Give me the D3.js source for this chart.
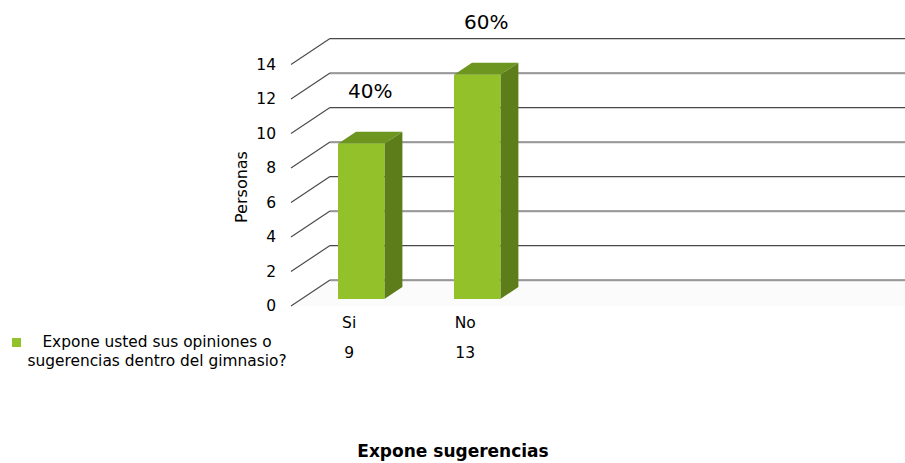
<!DOCTYPE html>
<html>
<head>
<meta charset="utf-8">
<script src="https://cdn.jsdelivr.net/npm/d3@7"></script>
<style>
  body { margin: 0; background: #fff; }
  text { font-family: "DejaVu Sans", sans-serif; fill: #000; }
</style>
</head>
<body>
<script>
// datos
const categorias = ['Si', 'No'];
const personas = [9, 13];
const porcentajes = ['40%', '60%'];
const ticksY = [0, 2, 4, 6, 8, 10, 12, 14];
const serieNombre = ['Expone usted sus opiniones o', 'sugerencias dentro del gimnasio?'];
const titulo = 'Expone sugerencias';
const ejeY = 'Personas';

const W = 905, H = 463;
const svg = d3.select('body').append('svg')
    .attr('width', W).attr('height', H);

// escala del plano del fondo
const y = d3.scaleLinear().domain([0, 14]).range([280, 38.5]);
// desplazamientos de profundidad (frente, cara de barra, fondo de barra)
const front = { dx: -39, dy: 26 };
const barF = { dx: -28.5, dy: 19 };
const barB = { dx: -10.5, dy: 7 };

const x = d3.scaleBand().domain(categorias)
    .range([338, 338 + 232]).paddingInner(0.6).paddingOuter(0.3).align(0);
const bw = x.bandwidth();

// suelo tenue
svg.append('path')
    .attr('d', `M330,${y(0)} L905,${y(0)} L905,${y(0) + front.dy} L${330 + front.dx},${y(0) + front.dy} Z`)
    .attr('fill', '#fbfbfb');

// rejilla
const grid = svg.append('g');
ticksY.forEach(t => {
    grid.append('line')
        .attr('x1', 330).attr('x2', W)
        .attr('y1', y(t) + 1).attr('y2', y(t) + 1)
        .attr('stroke', '#d0d0d0').attr('stroke-width', 1);
    grid.append('line')
        .attr('x1', 330).attr('x2', W)
        .attr('y1', y(t)).attr('y2', y(t))
        .attr('stroke', '#4a4a4a').attr('stroke-width', 1.2);
    grid.append('line')
        .attr('x1', 330 + front.dx).attr('y1', y(t) + front.dy)
        .attr('x2', 330).attr('y2', y(t))
        .attr('stroke', '#4a4a4a').attr('stroke-width', 1.2);
    grid.append('text')
        .attr('x', 276).attr('y', y(t) + front.dy + 5)
        .attr('text-anchor', 'end')
        .attr('font-size', 15.5)
        .text(t);
});

// barras 3D
const bars = svg.append('g');
categorias.forEach((c, i) => {
    const v = personas[i];
    const x0 = x(c), x1 = x0 + bw;
    const yb = y(0) + barF.dy, yt = y(v) + barF.dy;
    const sx = barB.dx - barF.dx, sy = barB.dy - barF.dy;
    // cara lateral
    bars.append('path')
        .attr('d', `M${x1},${yt} L${x1 + sx},${yt + sy} L${x1 + sx},${yb + sy} L${x1},${yb} Z`)
        .attr('fill', '#5c7d1a');
    // cara superior
    bars.append('path')
        .attr('d', `M${x0},${yt} L${x0 + sx},${yt + sy} L${x1 + sx},${yt + sy} L${x1},${yt} Z`)
        .attr('fill', '#6c961f');
    // cara frontal
    bars.append('rect')
        .attr('x', x0).attr('y', yt)
        .attr('width', bw).attr('height', yb - yt)
        .attr('fill', '#93c12a');
    // porcentaje
    svg.append('text')
        .attr('x', x0 + bw / 2 + 9).attr('y', yt - 46)
        .attr('text-anchor', 'middle')
        .attr('font-family', '"Open Sans", sans-serif')
        .attr('font-size', 20)
        .text(porcentajes[i]);
    // tabla de datos
    svg.append('text')
        .attr('x', x0 + bw / 2 - 12).attr('y', 328)
        .attr('text-anchor', 'middle').attr('font-size', 15.5)
        .text(c);
    svg.append('text')
        .attr('x', x0 + bw / 2 - 12).attr('y', 358)
        .attr('text-anchor', 'middle').attr('font-size', 15.5)
        .text(v);
});

// leyenda
svg.append('rect')
    .attr('x', 12).attr('y', 338).attr('width', 9).attr('height', 9)
    .attr('fill', '#93c12a');
serieNombre.forEach((s, i) => {
    svg.append('text')
        .attr('x', 157).attr('y', 347 + i * 19)
        .attr('text-anchor', 'middle').attr('font-size', 15.4)
        .text(s);
});

// titulo del eje y
svg.append('text')
    .attr('transform', 'translate(247,187) rotate(-90)')
    .attr('text-anchor', 'middle').attr('font-size', 16)
    .text(ejeY);

// titulo
svg.append('text')
    .attr('x', 453).attr('y', 457)
    .attr('text-anchor', 'middle')
    .attr('font-size', 17).attr('font-weight', 'bold')
    .text(titulo);
</script>
</body>
</html>
